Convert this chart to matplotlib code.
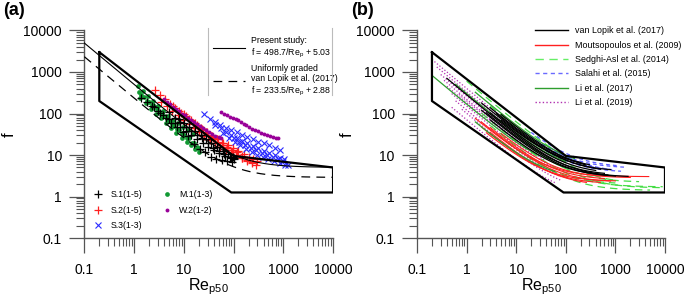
import numpy as np
import matplotlib
matplotlib.use("Agg")
import matplotlib.pyplot as plt
from matplotlib.lines import Line2D
from matplotlib.ticker import NullFormatter

plt.rcParams["font.family"] = ["Liberation Sans", "DejaVu Sans"]
plt.rcParams["mathtext.default"] = "regular"

# envelope drawn on both panels
env_re = [0.2, 0.2, 90, 10000, 10000, 100, 0.2]
env_f = [3000, 200, 1.25, 1.25, 5, 9.5, 3000]

# f = a / Re + b fits shown in panel (a)
present_ab = (498.7, 5.03)
lopik_uniform_ab = (233.5, 2.88)

# panel (a) measurements
re_s1 = [1.4, 1.8, 2.3, 3.0, 3.9, 5.0, 6.5, 8.5, 11, 14, 18, 24, 31, 40, 52, 68, 88, 100,
         2.5, 3.3, 4.3, 5.6, 7.3, 9.5, 12.4, 16, 21, 27, 35, 45, 58, 75, 95,
         5, 6.5, 8.5, 11, 14, 18, 23, 30, 39, 50, 65, 85, 100,
         8, 10, 13, 17, 22, 28, 36, 46, 60, 78, 98]
f_s1 = [230, 190, 150, 115, 90, 72, 58, 47, 38, 30, 24, 19, 15.5, 13, 11, 9.5, 8.4, 8.0,
        140, 105, 80, 60, 46, 36, 28, 18, 14, 11.5, 9.2, 8.0, 7.4, 7.0, 6.8,
        110, 80, 62, 48, 38, 30, 25, 19, 15, 12.5, 10.5, 9.0, 8.5,
        75, 60, 47, 37, 30, 24, 19, 15.5, 12.5, 10.5, 9.0]

re_s2 = [2.6, 3.3, 4.2, 5.3, 6.8, 8.7, 11, 14, 18, 23, 29, 37, 47, 60, 76, 97, 125, 160, 200, 250, 300,
         3.5, 4.5, 5.8, 7.5, 9.7, 12.5, 16, 20.5, 26, 33, 42, 54, 69, 88, 113, 145, 185, 235, 280,
         6, 8, 10, 13, 17, 22, 28, 36, 46, 59, 75, 96, 120, 150,
         15, 19, 24, 30, 38, 48, 60, 75, 95, 120, 150, 190, 240]
f_s2 = [360, 280, 220, 170, 135, 105, 85, 68, 54, 43, 35, 29, 24, 20, 17, 14.5, 12.5, 10.5, 9, 7.8, 7.0,
        190, 150, 115, 90, 70, 55, 44, 35, 28, 23, 19, 16, 13.5, 11.5, 9.8, 8.3, 7.2, 6.3, 5.9,
        150, 115, 95, 75, 58, 45, 36, 29, 24, 19.5, 16, 13.5, 11.5, 9.5,
        60, 48, 39, 31, 26, 21, 17.5, 14.5, 12, 10, 8.5, 7.5, 6.6]

re_s3 = [25, 33, 42, 54, 70, 90, 115, 150, 190, 245, 315, 400, 520, 670, 850,
         42, 55, 70, 90, 115, 150, 190, 245, 315, 400, 520, 670, 850, 1050,
         60, 80, 105, 135, 175, 230, 300, 390, 500, 650, 850, 1100, 1250,
         100, 130, 170, 220, 285, 370, 480, 620, 800, 1000]
f_s3 = [100, 75, 62, 52, 45, 40, 35, 30, 27, 24, 21, 19, 17, 15, 13.5,
        53, 44, 36, 30, 26, 22, 19, 16.5, 14.5, 12.5, 11, 9.8, 8.7, 8.0,
        33, 26, 21, 17, 14, 12, 10.2, 9.0, 8.0, 7.0, 6.3, 5.9, 5.7,
        26, 21, 17.5, 15, 13, 11.3, 10, 8.8, 7.8, 7.0]

re_m1 = [1.2, 1.5, 1.9, 2.4, 3.0, 3.8, 4.8, 6.0, 7.5, 9.5, 12, 15,
         1.25, 1.6, 2.0, 2.5, 3.2, 4.0, 5.0, 6.3, 8.0, 10, 12.5, 16, 19,
         1.3, 1.7, 2.2, 2.8, 3.5, 4.4, 5.5, 7.0, 9.0, 11.5, 14, 17, 20,
         1.35, 1.8, 2.3, 2.9, 3.7, 4.6, 5.8, 7.3, 9.2, 11.7, 14.8, 18]
f_m1 = [450, 340, 260, 200, 155, 115, 88, 70, 58, 48, 40, 32,
        330, 250, 190, 150, 110, 85, 65, 50, 40, 31, 25, 19, 15,
        240, 180, 130, 100, 78, 58, 44, 33, 26, 21, 17, 14, 12,
        280, 205, 160, 125, 95, 72, 55, 42, 33, 26, 20, 16]

re_w2 = [4, 4.6, 5.3, 6.1, 7, 8, 9.2, 10.5, 12, 14, 16, 18.5, 21, 24.5, 28, 32, 37, 43, 50, 55,
         57, 65, 73, 84, 97, 110, 125, 142, 160, 180, 205, 235, 270, 310, 355, 410, 470, 540, 620, 710, 800]
f_w2 = [220, 190, 165, 145, 128, 112, 100, 90, 80, 70, 62, 55, 50, 45, 40, 36, 32, 29, 27, 25.5,
        110, 100, 92, 84, 77, 72, 68, 62, 57, 52, 47, 43, 40, 37, 34, 32, 30, 28.5, 27, 26, 25.5]

# panel (b) correlations f = a / Re + b, with the Re range of each curve
lopik_a = [280, 233.5, 350, 300, 400, 250, 320, 450, 380, 200]
lopik_b = [2.9, 2.88, 4.0, 3.5, 4.5, 3.2, 5.0, 4.0, 3.8, 3.0]
lopik_re0 = [0.4, 2, 2, 3, 3, 2.5, 5, 5, 4, 3]
lopik_re1 = [1800, 1000, 800, 400, 300, 600, 200, 250, 500, 700]

mout_a = [110, 120, 90, 100, 130, 80, 150]
mout_b = [3.0, 2.2, 2.0, 1.8, 2.5, 2.3, 2.8]
mout_re0 = [1.5, 2, 2, 3, 3, 2.5, 5]
mout_re1 = [4700, 800, 500, 260, 600, 1000, 2000]

sedghi_a = [600, 450, 200, 150, 250, 120, 300]
sedghi_b = [3.0, 2.0, 1.7, 1.4, 2.2, 2.0, 1.6]
sedghi_re0 = [1.0, 3, 2, 3, 5, 4, 10]
sedghi_re1 = [200, 1000, 9000, 5000, 3000, 1000, 8000]

salahi_a = [600, 450, 400, 550, 350]
salahi_b = [5.0, 4.8, 4.0, 3.8, 3.8]
salahi_re0 = [20, 15, 30, 50, 40]
salahi_re1 = [1200, 1500, 700, 1000, 1300]

li17_a = [165, 480, 300, 90]
li17_b = [4, 5, 4, 2.5]
li17_re0 = [0.2, 1.5, 0.6, 1.5]
li17_re1 = [30, 150, 100, 60]

li19_a = [400, 330, 260, 220, 180, 150, 120, 100, 280, 200, 70]
li19_b = [2.5, 2.0, 2.0, 1.5, 1.8, 1.3, 1.5, 1.2, 3.0, 2.5, 1.0]
li19_re0 = [0.2, 0.25, 0.3, 0.35, 0.4, 0.5, 0.6, 0.8, 0.5, 0.7, 0.5]
li19_re1 = [10, 20, 30, 40, 50, 60, 80, 80, 15, 25, 60]

TICKS = [0.1, 1, 10, 100, 1000, 10000]
TICK_LABELS = ["0.1", "1", "10", "100", "1000", "10000"]
AX_COLOR = "#555555"


def style_axes(ax, ylabel_x):
    ax.set_xscale("log")
    ax.set_yscale("log")
    ax.set_xlim(0.1, 10000)
    ax.set_ylim(0.1, 10000)
    for side in ["top", "right"]:
        ax.spines[side].set_visible(False)
    for side in ["left", "bottom"]:
        ax.spines[side].set_color(AX_COLOR)
        ax.spines[side].set_linewidth(1.0)
    ax.set_xticks(TICKS)
    ax.set_xticklabels(TICK_LABELS)
    ax.set_yticks(TICKS)
    ax.set_yticklabels(TICK_LABELS)
    ax.xaxis.set_minor_formatter(NullFormatter())
    ax.yaxis.set_minor_formatter(NullFormatter())
    ax.tick_params(which="major", length=11, width=0.9, color=AX_COLOR, labelsize=10)
    ax.tick_params(axis="x", which="major", pad=7)
    ax.tick_params(axis="y", which="major", pad=5)
    ax.tick_params(which="minor", length=6, width=0.8, color=AX_COLOR)
    ax.set_xlabel("Re$_{p50}$", fontsize=11.5)
    ax.xaxis.set_label_coords(0.5, -0.183)
    ax.set_ylabel("f", fontsize=12)
    ax.yaxis.set_label_coords(ylabel_x, 0.5)
    ax.patch.set_visible(False)


def draw_curves(ax, a_vals, b_vals, re0, re1, **style):
    for a, b, lo, hi in zip(a_vals, b_vals, re0, re1):
        re = np.logspace(np.log10(lo), np.log10(hi), 80)
        ax.plot(re, a / re + b, **style)


fig = plt.figure(figsize=(6.85, 2.99), dpi=100)
ax_a = fig.add_axes([0.1231, 0.204, 0.3631, 0.694])
ax_b = fig.add_axes([0.6088, 0.204, 0.362, 0.694])

# ---- panel (a)
ax = ax_a
h_m1, = ax.plot(re_m1, f_m1, "o", color="#119933", ms=3.4, mew=0, zorder=2, label="M.1(1-3)")
h_s2, = ax.plot(re_s2, f_s2, "+", color="#ff2020", ms=5.5, mew=0.9, zorder=3, label="S.2(1-5)")
h_s3, = ax.plot(re_s3, f_s3, "x", color="#2a2aff", ms=4.5, mew=0.8, zorder=3, label="S.3(1-3)")
h_s1, = ax.plot(re_s1, f_s1, "+", color="black", ms=5.5, mew=0.9, zorder=4, label="S.1(1-5)")
h_w2, = ax.plot(re_w2, f_w2, "o", color="#990099", ms=2.8, mew=0, zorder=5, label="W.2(1-2)")

ax.plot(env_re, env_f, color="black", lw=1.6, zorder=6)
re_line = np.logspace(-1, 4, 200)
h_present, = ax.plot(re_line, present_ab[0] / re_line + present_ab[1],
                     color="black", lw=0.8, zorder=6)
h_uniform, = ax.plot(re_line, lopik_uniform_ab[0] / re_line + lopik_uniform_ab[1],
                     color="black", lw=0.9, dashes=(7, 5), zorder=6)
style_axes(ax, -0.27)

leg_fit = ax.legend([h_present, h_uniform],
                    ["Present study:\nf = 498.7/Re$_p$ + 5.03",
                     "Uniformly graded\nvan Lopik et al. (2017)\nf = 233.5/Re$_p$ + 2.88"],
                    loc="upper left", bbox_to_anchor=(0.517, 0.975), frameon=False,
                    fontsize=6.3, handlelength=3.7, handletextpad=0.6, labelspacing=0.5,
                    borderpad=0, borderaxespad=0)
ax.add_artist(leg_fit)
ax.legend([h_s1, h_s2, h_s3, h_m1, h_w2],
          ["S.1(1-5)", "S.2(1-5)", "S.3(1-3)", "M.1(1-3)", "W.2(1-2)"],
          loc="upper left", bbox_to_anchor=(0.035, 0.23), ncol=2, frameon=False,
          fontsize=6.3, handlelength=1.2, handletextpad=0.8, labelspacing=0.75,
          columnspacing=2.2, borderpad=0, borderaxespad=0)

# thin grey edges of the fit legend box
for x in (208 / 685, 332 / 685):
    fig.add_artist(Line2D([x, x], [1 - 28 / 299, 1 - 95 / 299], color="#bbbbbb", lw=0.8))

# ---- panel (b)
ax = ax_b
draw_curves(ax, li19_a, li19_b, li19_re0, li19_re1, color="#b030b0", lw=0.9,
            linestyle=(0, (1, 1.6)), zorder=2)
draw_curves(ax, sedghi_a, sedghi_b, sedghi_re0, sedghi_re1, color="#44dd44", lw=0.9,
            dashes=(6, 4), zorder=3)
draw_curves(ax, salahi_a, salahi_b, salahi_re0, salahi_re1, color="#5a5aff", lw=0.9,
            dashes=(3, 2.5), zorder=3)
draw_curves(ax, mout_a, mout_b, mout_re0, mout_re1, color="#ff2020", lw=0.8, zorder=4)
draw_curves(ax, li17_a, li17_b, li17_re0, li17_re1, color="#2e9e2e", lw=0.9, zorder=4)
draw_curves(ax, lopik_a, lopik_b, lopik_re0, lopik_re1, color="black", lw=0.9, zorder=5)
ax.plot(env_re, env_f, color="black", lw=1.6, zorder=6)
style_axes(ax, -0.25)

handles_b = [
    Line2D([], [], color="black", lw=1.0),
    Line2D([], [], color="#ff2020", lw=1.0),
    Line2D([], [], color="#66ee66", lw=1.0, dashes=(6, 4)),
    Line2D([], [], color="#6a6aff", lw=1.0, dashes=(3, 2.5)),
    Line2D([], [], color="#2e9e2e", lw=1.0),
    Line2D([], [], color="#b030b0", lw=1.0, linestyle=(0, (1, 1.6))),
]
labels_b = ["van Lopik et al. (2017)", "Moutsopoulos et al. (2009)", "Sedghi-Asl et al. (2014)",
            "Salahi et al. (2015)", "Li et al. (2017)", "Li et al. (2019)"]
ax.legend(handles_b, labels_b, loc="upper left", bbox_to_anchor=(0.476, 1.02), frameon=False,
          fontsize=6.4, handlelength=3.7, handletextpad=0.8, labelspacing=0.6,
          borderpad=0, borderaxespad=0)

fig.text(0.004, 0.965, "(a)", fontsize=13, fontweight="bold", va="center", ha="left")
fig.text(0.513, 0.965, "(b)", fontsize=13, fontweight="bold", va="center", ha="left")

fig.savefig("out.png", dpi=100)
